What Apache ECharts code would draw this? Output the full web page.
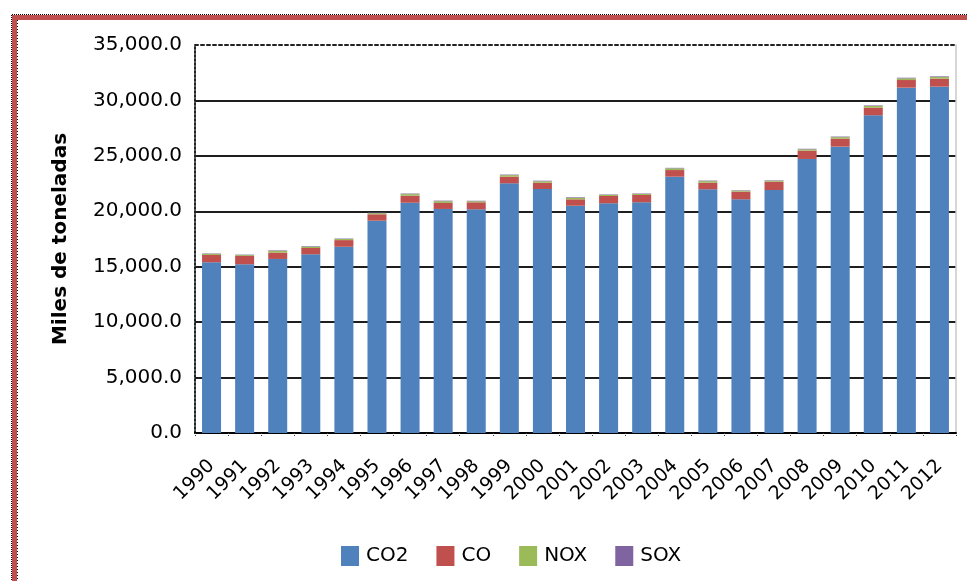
<!DOCTYPE html>
<html>
<head>
<meta charset="utf-8">
<script src="https://cdn.jsdelivr.net/npm/echarts@6/dist/echarts.min.js"></script>
<style>
  html, body { margin: 0; padding: 0; background: #fff; }
  #chart { width: 967px; height: 581px; }
</style>
</head>
<body>
<div id="chart"></div>
<script>
// Emisiones anuales (miles de toneladas)
const years = ['1990','1991','1992','1993','1994','1995','1996','1997','1998','1999','2000','2001',
               '2002','2003','2004','2005','2006','2007','2008','2009','2010','2011','2012'];
const co2 = [15400,15220,15700,16120,16800,19150,20770,20210,20180,22520,22010,20500,
             20720,20810,23120,21980,21080,21920,24720,25830,28660,31150,31240];
const co  = [660,750,570,570,600,580,630,540,630,600,560,580,
             660,660,600,600,690,750,750,720,690,690,720];
const nox = [100,80,150,120,100,100,150,160,100,140,140,150,
             100,100,150,140,90,90,120,140,150,150,150];
const sox = [40,40,50,50,40,50,50,50,40,50,50,50,
             40,40,50,50,40,40,50,50,50,60,60];
const yTicks = { min: 0, max: 35000, step: 5000 };

const FONT = 'DejaVu Sans';
const chart = echarts.init(document.getElementById('chart'));

const mkSeries = (name, data, color) => ({
  name, type: 'bar', stack: 'total', data, barWidth: 19,
  xAxisIndex: 0, yAxisIndex: 0,
  itemStyle: { color }, emphasis: { disabled: true }
});

chart.setOption({
  animation: false,
  grid: { left: 195, right: 11, top: 45, bottom: 148, containLabel: false },
  legend: {
    left: 336, top: 541,
    icon: 'rect',
    itemWidth: 18, itemHeight: 20, itemGap: 28,
    textStyle: { fontFamily: FONT, fontSize: 20, color: '#000', padding: [0, 0, 0, 2] },
    data: ['CO2', 'CO', 'NOX', 'SOX']
  },
  xAxis: [{
    type: 'category', data: years,
    axisLine: { lineStyle: { color: '#000', width: 2 } },
    axisTick: { show: true, length: 4, lineStyle: { color: '#333', type: 'dotted' } },
    axisLabel: { rotate: 45, margin: 30, fontFamily: FONT, fontSize: 19, color: '#000', interval: 0 }
  }, {
    type: 'category', data: years, position: 'top',
    axisLine: { show: true, onZero: false, lineStyle: { color: '#222', width: 2, type: [3, 3] } },
    axisTick: { show: false }, axisLabel: { show: false }
  }],
  yAxis: [{
    type: 'value', min: yTicks.min, max: yTicks.max, interval: yTicks.step,
    name: 'Miles de toneladas', nameLocation: 'middle', nameGap: 124,
    nameTextStyle: { fontFamily: FONT, fontSize: 20, fontWeight: 'bold', color: '#000' },
    axisLine: { show: true, lineStyle: { color: '#222', width: 2, type: [2, 2] } },
    axisTick: { show: false },
    axisLabel: {
      margin: 13, fontFamily: FONT, fontSize: 20, color: '#000',
      formatter: v => v.toLocaleString('en-US') + '.0'
    },
    splitLine: { show: true, showMaxLine: false, lineStyle: { color: '#1e1e1e', width: 2 } }
  }, {
    type: 'value', min: yTicks.min, max: yTicks.max, interval: yTicks.step, position: 'right',
    axisLine: { show: true, onZero: false, lineStyle: { color: '#c8c8c8', width: 1.5 } },
    axisTick: { show: false }, axisLabel: { show: false }, splitLine: { show: false }
  }],
  series: [
    mkSeries('CO2', co2, '#4F81BD'),
    mkSeries('CO', co, '#C0504D'),
    mkSeries('NOX', nox, '#9BBB59'),
    mkSeries('SOX', sox, '#8064A2')
  ],
  graphic: [
    // marco exterior: banda roja superior e izquierda con bordes punteados
    { type: 'rect', shape: { x: 12, y: 15, width: 955, height: 5 }, style: { fill: '#C0504D' } },
    { type: 'rect', shape: { x: 12, y: 15, width: 5, height: 566 }, style: { fill: '#C0504D' } },
    { type: 'line', shape: { x1: 12, y1: 14.5, x2: 967, y2: 14.5 }, style: { stroke: '#000', lineWidth: 1, lineDash: [1, 1] } },
    { type: 'line', shape: { x1: 11.5, y1: 15, x2: 11.5, y2: 581 }, style: { stroke: '#000', lineWidth: 1, lineDash: [1, 1] } },
    { type: 'line', shape: { x1: 17.5, y1: 20, x2: 17.5, y2: 581 }, style: { stroke: '#000', lineWidth: 1, lineDash: [1, 2] } }
  ]
});
</script>
</body>
</html>
